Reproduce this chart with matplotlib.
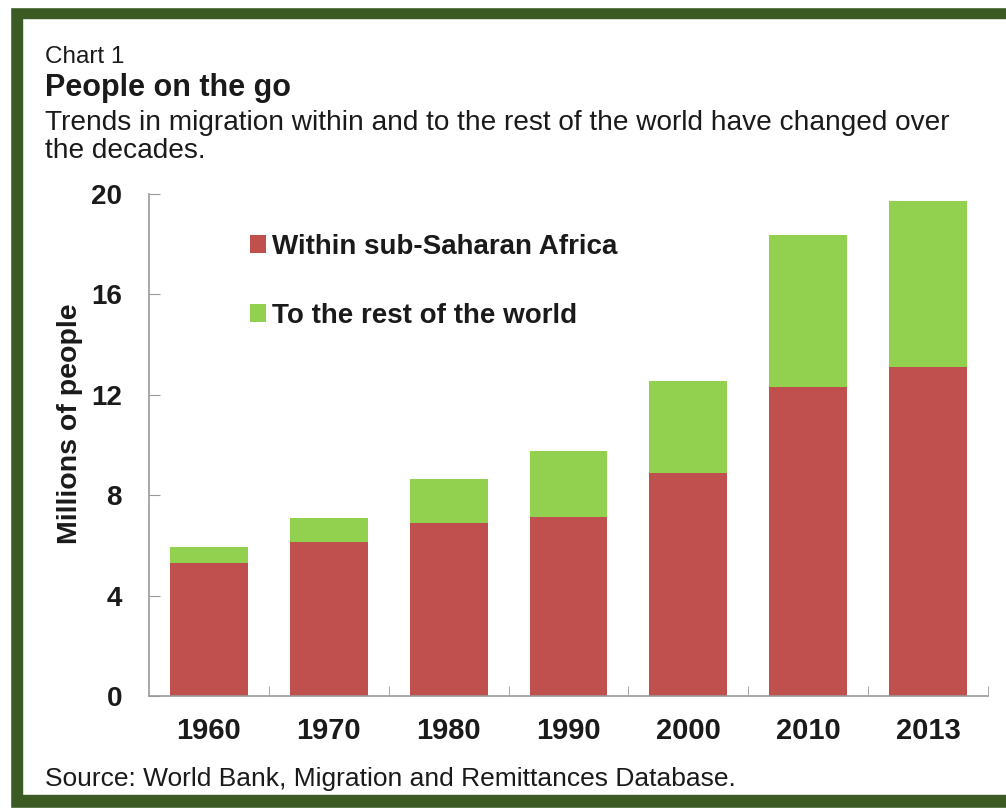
import numpy as np
import matplotlib.pyplot as plt
from matplotlib.patches import Rectangle

years = ['1960', '1970', '1980', '1990', '2000', '2010', '2013']
within_ssa = [5.3, 6.15, 6.9, 7.13, 8.88, 12.3, 13.1]
rest_of_world = [0.62, 0.95, 1.75, 2.63, 3.65, 6.06, 6.62]
yticks = [0, 4, 8, 12, 16, 20]

plt.rcParams['font.family'] = ['Liberation Sans', 'DejaVu Sans']
red = '#C0504D'
green = '#92D050'
txt = '#1a1a1a'

fig = plt.figure(figsize=(10.06, 8.11), dpi=100)

# dark green frame (left, top, bottom)
frame = '#3C5A24'
fig.patches.append(Rectangle((10 / 1006, 0), 12 / 1006, 1, transform=fig.transFigure,
                             color=frame, zorder=0))
fig.patches.append(Rectangle((10 / 1006, 1 - 18 / 811), 1, 11 / 811, transform=fig.transFigure,
                             color=frame, zorder=0))
fig.patches.append(Rectangle((10 / 1006, 1 - 808 / 811), 1, 13 / 811, transform=fig.transFigure,
                             color=frame, zorder=0))
fig.patches.append(Rectangle((0, 0), 10 / 1006, 1, transform=fig.transFigure,
                             color='white', zorder=1))
fig.patches.append(Rectangle((0, 1 - 7 / 811), 1, 7 / 811, transform=fig.transFigure,
                             color='white', zorder=1))
fig.patches.append(Rectangle((0, 0), 1, 3 / 811, transform=fig.transFigure,
                             color='white', zorder=1))

ax = fig.add_axes([149 / 1006, 115 / 811, 839 / 1006, 502 / 811])
x = np.arange(len(years))
ax.bar(x, within_ssa, width=0.65, color=red, label='Within sub-Saharan Africa', zorder=2)
ax.bar(x, rest_of_world, width=0.65, bottom=within_ssa, color=green,
       label='To the rest of the world', zorder=2)

ax.set_xlim(-0.5, len(years) - 0.5)
ax.set_ylim(0, 20)
ax.set_yticks(yticks)
ax.set_yticklabels([str(v) for v in yticks], fontsize=20, fontweight='bold', color=txt)
ax.set_xticks(x)
ax.set_xticklabels(years, fontsize=21, fontweight='bold', color=txt)
ax.set_xticks(np.arange(len(years)) + 0.5, minor=True)
ax.tick_params(axis='x', which='major', length=0, pad=15)
ax.tick_params(axis='x', which='minor', direction='in', length=7, color='#999999')
ax.tick_params(axis='y', direction='in', length=8, color='#999999', pad=19.5)

for s in ['top', 'right']:
    ax.spines[s].set_visible(False)
for s in ['left', 'bottom']:
    ax.spines[s].set_color('#999999')
    ax.spines[s].set_linewidth(1.2)

ax.set_ylabel('Millions of people', fontsize=20.5, fontweight='bold', color=txt)
ax.yaxis.set_label_coords(-0.079, 0.542)

handles, labels = ax.get_legend_handles_labels()
leg = ax.legend(handles, labels, loc='upper left', bbox_to_anchor=(0.09, 0.971), frameon=False,
                prop={'size': 20, 'weight': 'bold'}, handlelength=0.6, handleheight=0.6,
                handletextpad=0.2, labelspacing=1.55)
for t in leg.get_texts():
    t.set_color(txt)

fig.text(45 / 1006, 1 - 57 / 811, 'Chart 1', fontsize=17.5, color=txt, va='center')
fig.text(45 / 1006, 1 - 88 / 811, 'People on the go', fontsize=22, fontweight='bold',
         color=txt, va='center')
fig.text(45 / 1006, 1 - 123 / 811,
         'Trends in migration within and to the rest of the world have changed over',
         fontsize=20.2, color=txt, va='center')
fig.text(45 / 1006, 1 - 151 / 811, 'the decades.', fontsize=20.2, color=txt, va='center')
fig.text(45 / 1006, 1 - 779 / 811, 'Source: World Bank, Migration and Remittances Database.',
         fontsize=19, color=txt, va='center')

fig.savefig('out.png', dpi=100, facecolor='white')
